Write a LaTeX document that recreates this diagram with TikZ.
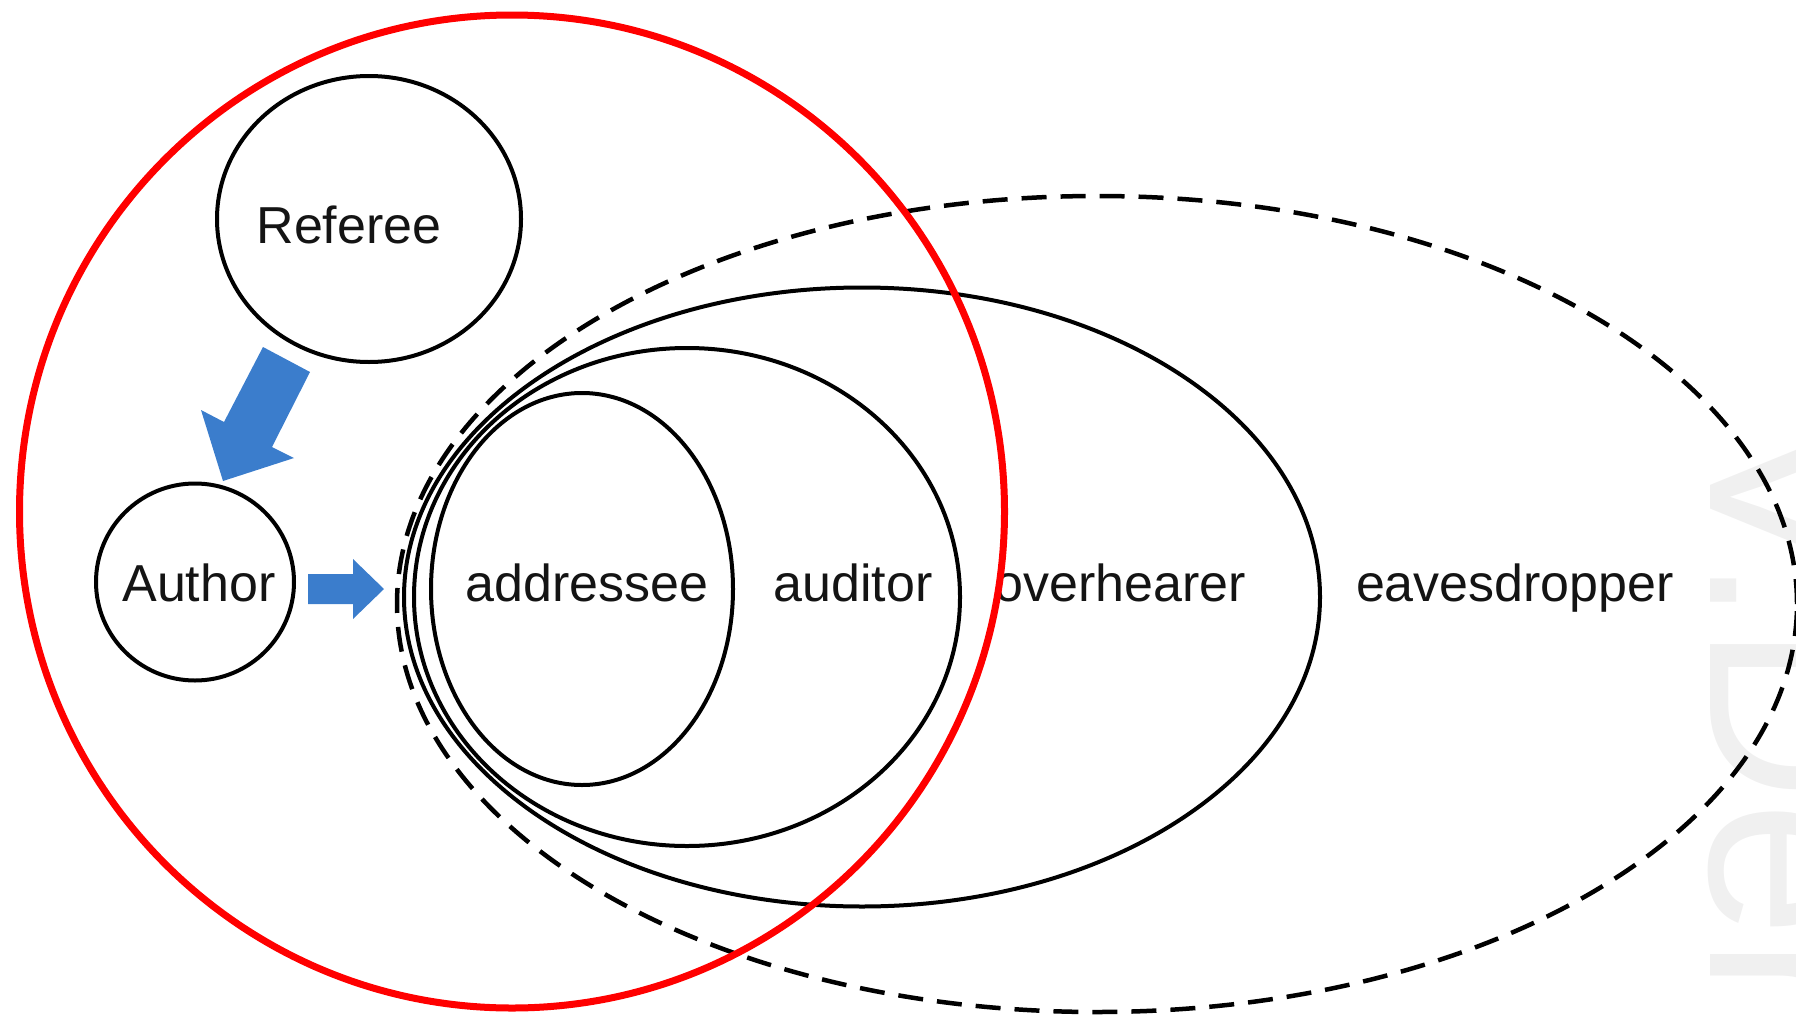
\documentclass[tikz,border=0pt]{standalone}
\usepackage{fontspec}
\setmainfont{Liberation Sans}
\usetikzlibrary{shapes.geometric}
\definecolor{arrowblue}{RGB}{59,125,204}
\definecolor{ringred}{RGB}{255,0,0}
\begin{document}
\begin{tikzpicture}[x=1pt,y=-1pt,
  ring/.style={ellipse, draw=black, line width=4pt, inner sep=0pt, outer sep=0pt},
  lbl/.style={font=\fontsize{52}{60}\selectfont, inner sep=0pt, anchor=base, text=black!92},
  blockarrow/.style={fill=arrowblue, draw=none}]
\useasboundingbox (0,0) rectangle (1796,1017);
% watermark
\node[text=black!6, font=\fontsize{245}{260}\selectfont, rotate=-90, anchor=base west, inner sep=0pt] (wm) at (1710,415) {V.Der};
% inclusion ellipses
\node[ring, minimum width=302pt, minimum height=392pt] (addressee) at (582,589) {};
\node[ring, minimum width=546pt, minimum height=498pt] (auditor) at (687,597) {};
\node[ring, minimum width=916pt, minimum height=619pt] (overhearer) at (862,597) {};
\node[ring, draw=black, line width=4.5pt, dash pattern=on 25pt off 14pt, minimum width=1400pt, minimum height=816pt] (eaves) at (1097,604) {};
% referee and author
\node[ring, minimum width=304pt, minimum height=286pt] (referee) at (369,219) {};
\node[ring, minimum width=198pt, minimum height=197pt] (author) at (195,582) {};
% labels
\node[lbl] (lref) at (349,243) {Referee};
\node[lbl] (laut) at (199,601) {Author};
\node[lbl] (ladd) at (587,601) {addressee};
\node[lbl] (laud) at (853,601) {auditor};
\node[lbl] (love) at (1120,601) {overhearer};
\node[lbl] (leav) at (1515,601) {eavesdropper};
% red circle
\node[ellipse, draw=ringred, line width=7pt, inner sep=0pt, minimum width=985pt, minimum height=993pt] (red) at (512,511.5) {};
% block arrows
\fill[blockarrow] (263,347) -- (310,372) -- (272,447) -- (294,458) -- (223,481) -- (201,410) -- (224,422) -- cycle;
\fill[blockarrow] (308,574) -- (353,574) -- (353,559) -- (384,589) -- (353,619) -- (353,604) -- (308,604) -- cycle;
\end{tikzpicture}
\end{document}
